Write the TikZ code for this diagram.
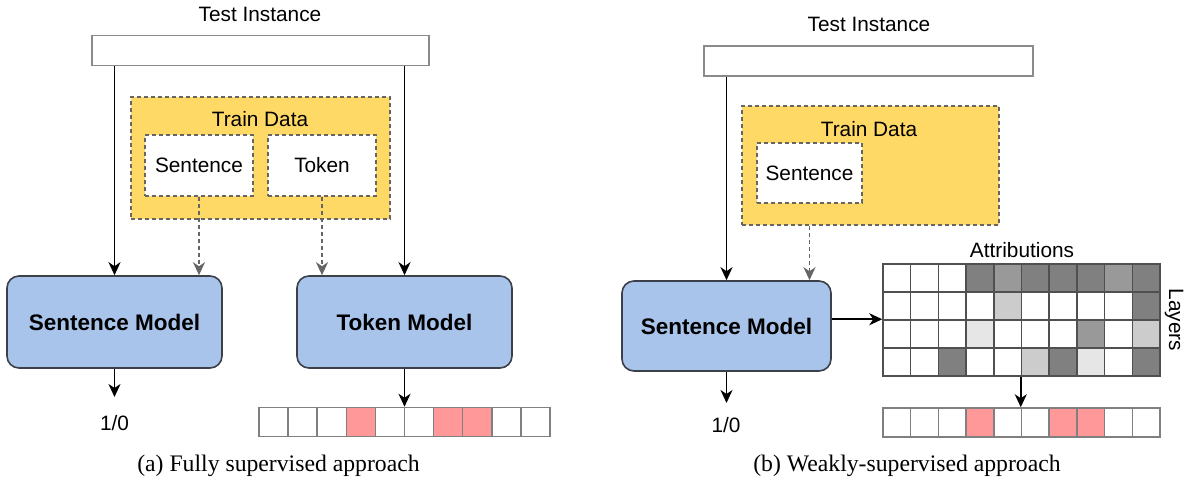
\documentclass[tikz,border=0pt]{standalone}
\usepackage{fontspec}
\setmainfont{Liberation Serif}
\newfontfamily\diafont{Liberation Sans}
\usetikzlibrary{arrows.meta,positioning}
\definecolor{modelblue}{HTML}{A9C4EB}
\definecolor{modeledge}{HTML}{3C4048}
\definecolor{trainyellow}{HTML}{FFD966}
\definecolor{dashgray}{HTML}{666666}
\definecolor{boxgray}{HTML}{8A8A8A}
\definecolor{hitpink}{HTML}{FF9999}
\definecolor{gridedge}{HTML}{505050}
\definecolor{dk}{HTML}{808080}
\definecolor{md}{HTML}{999999}
\definecolor{lt}{HTML}{CCCCCC}
\definecolor{xl}{HTML}{E6E6E6}

\begin{document}
\begin{tikzpicture}[x=1pt,y=-1pt,
			lbl/.style={font=\diafont\fontsize{20.8}{24}\selectfont,inner sep=0pt},
			captext/.style={font=\fontsize{23.7}{28}\selectfont,inner sep=0pt},
			testbox/.style={draw=boxgray,line width=1.7pt,fill=white,minimum height=30pt,inner sep=0pt},
			trainbox/.style={draw=dashgray,line width=1.5pt,dash pattern=on 4pt off 3pt,fill=trainyellow,inner sep=0pt},
			databox/.style={draw=dashgray,line width=1.5pt,dash pattern=on 4pt off 3pt,fill=white,inner sep=0pt,font=\diafont\fontsize{20.8}{24}\selectfont},
			modelbox/.style={draw=modeledge,line width=1.6pt,fill=modelblue,rounded corners=12pt,inner sep=0pt,font=\diafont\bfseries\fontsize{22.5}{26}\selectfont},
			tokcell/.style={draw=dk,line width=1.5pt,minimum width=29.1pt,minimum height=29pt,inner sep=0pt},
			attcell/.style={draw=gridedge,line width=1.5pt,minimum width=27.7pt,minimum height=28pt,inner sep=0pt},
			arr/.style={-{Stealth[length=13pt,width=12pt,inset=4pt]},line width=1.8pt,black},
			darr/.style={-{Stealth[length=13pt,width=12pt,inset=4pt]},line width=1.6pt,draw=dashgray,dash pattern=on 4pt off 3pt}
			]
			\useasboundingbox (0,0) rectangle (1188,484);

			\node[lbl] (titleA) at (260,14) {Test Instance};
			\node[testbox,minimum width=337pt] (testA) at (260.5,50.5) {};
			\node[trainbox,minimum width=259pt,minimum height=122pt] (trainA) at (260.5,158) {};
			\node[lbl] (trainlblA) at (260,119) {Train Data};
			\node[databox,minimum width=108pt,minimum height=61pt] (sentA) at (199,165.5) {Sentence};
			\node[databox,minimum width=108pt,minimum height=61pt] (tokenA) at (322,165.5) {Token};
			\node[modelbox,minimum width=215pt,minimum height=92pt] (smodA) at (114.5,322) {Sentence Model};
			\node[modelbox,minimum width=215pt,minimum height=92pt] (tmodA) at (404.5,322) {Token Model};
			\node[lbl] (resA) at (114.5,423) {1/0};
			\coordinate (tipA) at (114.5,397);
			\foreach \i in {0,...,9}
				\node[tokcell] (cellA-\i) at ({259+29.1*\i+14.55},422) {};
			\foreach \i in {3,6,7}
				\node[tokcell,fill=hitpink] at (cellA-\i) {};

			\draw[arr] (testA.south -| smodA.north) -- (smodA.north);
			\draw[arr] (testA.south -| tmodA.north) -- (tmodA.north);
			\draw[darr] (sentA.south) -- (sentA.south |- smodA.north);
			\draw[darr] (tokenA.south) -- (tokenA.south |- tmodA.north);
			\draw[arr] (smodA.south) -- (tipA);
			\draw[arr] (tmodA.south) -- (tmodA.south |- cellA-5.north);
			\node[captext] (capA) at (278.5,466) {(a) Fully supervised approach};

			\node[lbl] (titleB) at (869,24) {Test Instance};
			\node[testbox,minimum width=329pt] (testB) at (868.5,61) {};
			\node[trainbox,minimum width=257pt,minimum height=119pt] (trainB) at (870.5,165.5) {};
			\node[lbl] (trainlblB) at (869,129) {Train Data};
			\node[databox,minimum width=105pt,minimum height=60pt] (sentB) at (809.5,173) {Sentence};
			\node[modelbox,minimum width=209pt,minimum height=90pt] (smodB) at (726.5,326) {Sentence Model};
			\node[lbl] (resB) at (726,425) {1/0};
			\coordinate (tipB) at (726.5,403);
			\node[lbl] (attlbl) at (1022,250) {Attributions};
			\node[lbl,rotate=-90] (layers) at (1174,320) {Layers};
			\foreach \row [count=\r from 0] in {{white,white,white,dk,md,dk,dk,dk,md,dk},{white,white,white,white,lt,white,white,white,white,dk},{white,white,white,xl,white,white,white,md,white,lt},{white,white,dk,white,white,lt,dk,xl,white,dk}}
				\foreach \col [count=\c from 0] in \row
					\node[attcell,fill=\col] (attr-\r-\c) at ({883+27.7*\c+13.85},{264+28*\r+14}) {};
			\foreach \i in {0,...,9}
				\node[tokcell,minimum width=27.7pt] (cellB-\i) at ({883+27.7*\i+13.85},422.5) {};
			\foreach \i in {3,6,7}
				\node[tokcell,minimum width=27.7pt,fill=hitpink] at (cellB-\i) {};

			\draw[arr] (testB.south -| smodB.north) -- (smodB.north);
			\draw[darr] (trainB.south -| sentB.south) -- (sentB.south |- smodB.north);
			\draw[arr] (smodB.east |- attr-2-0.north west) -- (attr-2-0.north west);
			\draw[arr] (smodB.south) -- (tipB);
			\draw[arr] (attr-3-5.south west) -- (cellB-5.north west);
			\node[captext] (capB) at (907,466) {(b) Weakly-supervised approach};
		\end{tikzpicture}
\end{document}
